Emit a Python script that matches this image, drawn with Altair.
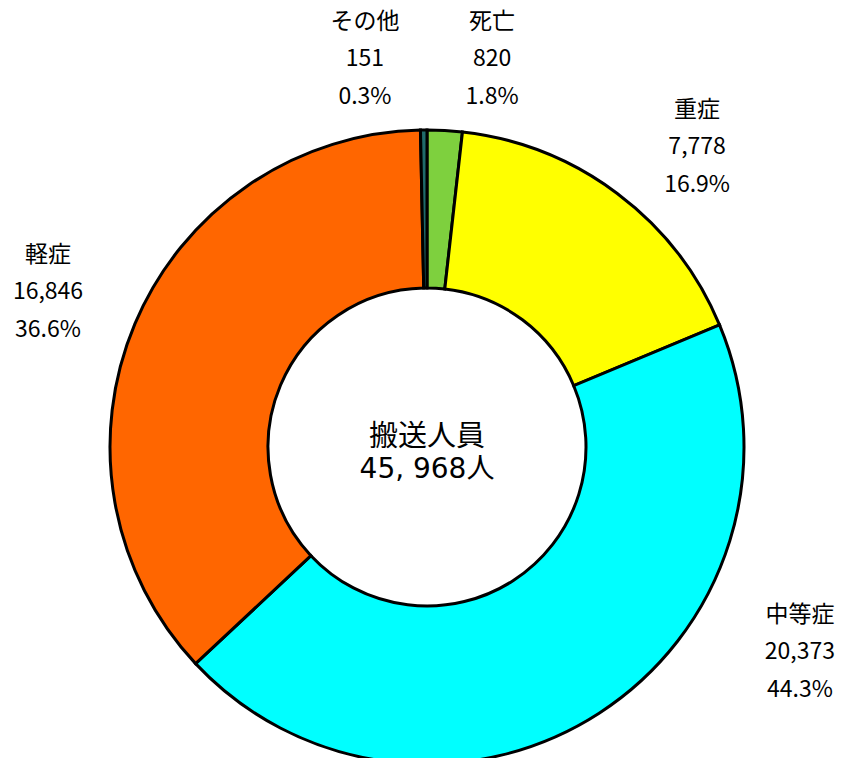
import math
import altair as alt
import pandas as pd

# Data (clockwise from 12 o'clock)
categories = ["死亡", "重症", "中等症", "軽症", "その他"]
counts = [820, 7778, 20373, 16846, 151]
percents = ["1.8%", "16.9%", "44.3%", "36.6%", "0.3%"]
count_labels = ["820", "7,778", "20,373", "16,846", "151"]
colors = ["#7ED03E", "#FFFF00", "#00FFFF", "#FF6600", "#1F6B6B"]
center_title = "搬送人員"
center_total = "45, 968人"

# Layout (first-line placement of each label in polar coordinates:
# degrees clockwise from top, pixels from the donut centre)
label_angle_deg = [8.7, 38.7, 114.25, -63.1, -8.3]
label_radius_px = [430, 432, 409, 425, 430]
CX, CY = 427, 447
R_OUT, R_IN = 317, 159

df = pd.DataFrame({
    "cat": categories,
    "count": counts,
    "order": list(range(len(categories))),
    "label": [f"{c}\n{n}\n{p}" for c, n, p in zip(categories, count_labels, percents)],
    "ang": [math.radians(a) for a in label_angle_deg],
    "rad": label_radius_px,
})

arcs = alt.Chart(df).mark_arc(
    outerRadius=R_OUT, innerRadius=R_IN, stroke="black", strokeWidth=3
).encode(
    theta=alt.Theta("count:Q", stack=True),
    order=alt.Order("order:Q"),
    color=alt.Color("cat:N", scale=alt.Scale(domain=categories, range=colors), legend=None),
    x=alt.value(CX),
    y=alt.value(CY),
)

labels = alt.Chart(df).mark_text(
    font="Noto Sans CJK JP", fontSize=23, lineBreak="\n", lineHeight=37.5,
    align="center", baseline="middle", color="black"
).encode(
    text="label:N",
    theta=alt.Theta("ang:Q", scale=None),
    radius=alt.Radius("rad:Q", scale=None),
    x=alt.value(CX),
    y=alt.value(CY),
)

center_font = "DejaVu Sans, Noto Sans CJK JP"
center1 = alt.Chart(pd.DataFrame({"t": [center_title]})).mark_text(
    font="Noto Sans CJK JP", fontSize=29, align="center", baseline="middle", color="black"
).encode(text="t:N", x=alt.value(CX), y=alt.value(437))

center2 = alt.Chart(pd.DataFrame({"t": [center_total]})).mark_text(
    font=center_font, fontSize=28, align="center", baseline="middle", color="black"
).encode(text="t:N", x=alt.value(CX), y=alt.value(470))

chart = alt.layer(arcs, labels, center1, center2).properties(
    width=852, height=758,
    autosize=alt.AutoSizeParams(type="none"),
    padding=0,
).configure_view(stroke=None)

chart.save("out.html", embed_options={"renderer": "svg", "actions": False})
